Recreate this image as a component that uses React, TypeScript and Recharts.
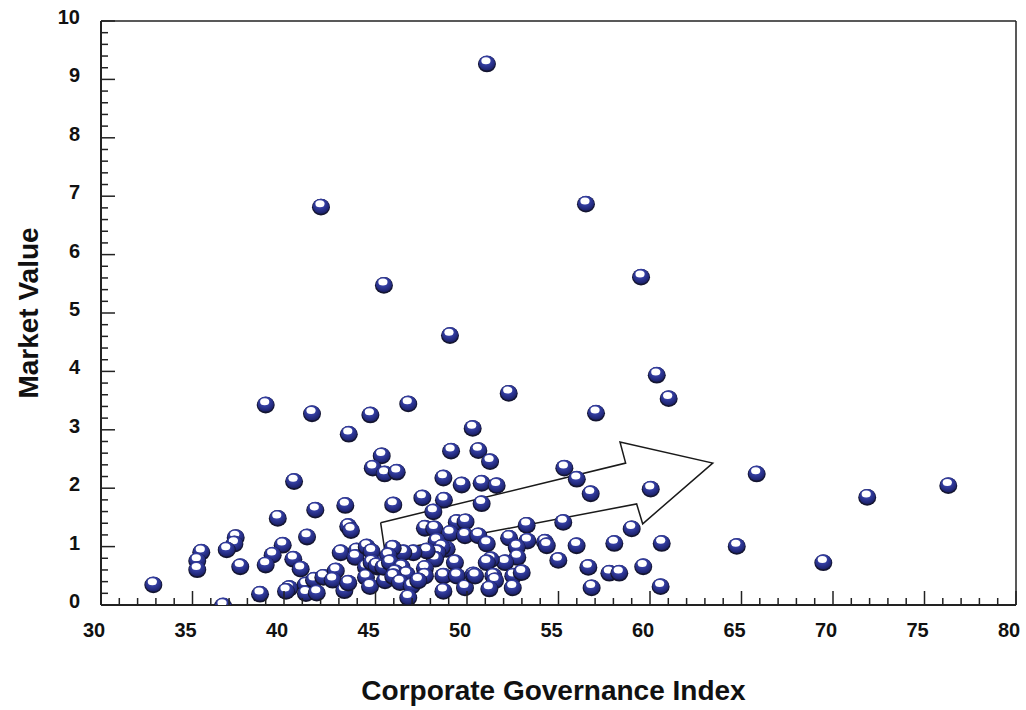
import { ScatterChart, Scatter, XAxis, YAxis, ReferenceLine } from "recharts";

// Corporate Governance Index (x) vs Market Value (y)
const firmX = [
  51.09, 42.02, 56.5, 45.46, 59.51, 49.07, 60.37, 61.02, 46.79, 52.28, 57.05, 50.31, 39.0, 41.53, 44.72,
  43.54, 45.34, 44.85, 45.5, 46.16, 40.55, 49.13, 50.62, 51.26, 48.71, 49.71, 50.8, 51.62, 55.32, 56.0,
  56.76, 60.04, 65.83, 71.87, 76.3, 41.71, 43.35, 45.97, 47.56, 48.74, 48.16, 50.8, 39.66, 43.51, 43.66,
  41.26, 37.36, 37.29, 36.87, 35.48, 35.26, 35.26, 32.86, 36.67, 37.61, 38.69, 39.93, 39.38, 39.0, 40.51,
  40.91, 40.29, 40.11, 41.19, 41.2, 41.64, 41.79, 42.15, 42.83, 42.66, 43.3, 43.51, 43.1, 43.97, 43.9,
  44.52, 44.79, 44.48, 44.48, 44.7, 44.79, 45.15, 45.52, 45.52, 47.7, 48.21, 49.44, 49.92, 49.07, 49.89,
  50.62, 48.34, 48.89, 48.62, 48.38, 49.34, 48.25, 47.8, 47.07, 46.52, 45.94, 45.7, 45.06, 45.43, 45.79,
  46.43, 46.07, 47.7, 47.7, 46.7, 45.97, 46.34, 46.98, 47.34, 48.71, 49.44, 46.79, 48.71, 49.89, 50.34,
  53.26, 55.26, 51.08, 52.3, 53.3, 54.26, 54.36, 52.72, 52.75, 54.99, 52.08, 51.3, 51.08, 50.44, 51.44,
  52.53, 52.99, 51.53, 51.22, 52.5, 55.99, 59.0, 58.05, 60.64, 56.63, 57.78, 58.32, 59.63, 56.81, 60.58,
  64.74, 69.47,
];
const firmY = [
  9.28, 6.83, 6.88, 5.49, 5.63, 4.63, 3.95, 3.55, 3.46, 3.64, 3.3, 3.04, 3.44, 3.29, 3.27,
  2.94, 2.57, 2.36, 2.26, 2.29, 2.13, 2.65, 2.66, 2.47, 2.19, 2.07, 2.1, 2.06, 2.36, 2.17,
  1.92, 2.0, 2.26, 1.86, 2.06, 1.64, 1.72, 1.73, 1.85, 1.81, 1.61, 1.75, 1.5, 1.36, 1.29,
  1.18, 1.17, 1.06, 0.96, 0.92, 0.77, 0.62, 0.36, 0.0, 0.67, 0.2, 1.04, 0.87, 0.7, 0.8,
  0.63, 0.3, 0.25, 0.36, 0.21, 0.44, 0.22, 0.49, 0.6, 0.44, 0.26, 0.39, 0.91, 0.94, 0.83,
  1.01, 0.93, 0.66, 0.49, 0.33, 0.74, 0.66, 0.77, 0.43, 1.33, 1.32, 1.43, 1.44, 1.24, 1.2,
  1.2, 1.11, 0.97, 1.0, 0.91, 0.74, 0.8, 0.94, 0.91, 0.91, 0.99, 0.86, 0.69, 0.66, 0.74,
  0.66, 0.57, 0.64, 0.51, 0.54, 0.5, 0.4, 0.34, 0.43, 0.51, 0.51, 0.14, 0.25, 0.31, 0.53,
  1.38, 1.43, 1.06, 1.16, 1.11, 1.09, 1.03, 1.0, 0.83, 0.78, 0.74, 0.79, 0.74, 0.51, 0.51,
  0.51, 0.57, 0.43, 0.29, 0.31, 1.03, 1.32, 1.07, 1.07, 0.66, 0.56, 0.56, 0.67, 0.31, 0.33,
  1.02, 0.74,
];

// outline arrow, vertices in data units (closed)
const arrowX = [45.28, 58.67, 58.36, 63.43, 59.6, 59.27, 45.52, 45.28];
const arrowY = [1.41, 2.43, 2.79, 2.43, 1.39, 1.73, 0.91, 1.41];

const xLabels = [30, 35, 40, 45, 50, 55, 60, 65, 70, 75, 80];
const yLabels = [0, 1, 2, 3, 4, 5, 6, 7, 8, 9, 10];
const xTicks = Array.from({ length: 51 }, (_, i) => 30 + i);
const yTicks = Array.from({ length: 51 }, (_, i) => i / 5);

const firms = firmX.map((x, i) => ({ x, y: firmY[i] }));
const arrow = arrowX.map((x, i) => ({ x, y: arrowY[i] }));

const FONT = "'Liberation Sans', Arial, sans-serif";
const INK = "#222";

const Sphere = (props: any) => {
  const { cx, cy } = props;
  if (cx == null || cy == null) return <g />;
  return (
    <g>
      <defs>
        <radialGradient id="sphereFill" cx="45%" cy="35%" r="65%">
          <stop offset="0%" stopColor="#4a55c4" />
          <stop offset="60%" stopColor="#2c3592" />
          <stop offset="100%" stopColor="#1b2068" />
        </radialGradient>
      </defs>
      <ellipse cx={cx} cy={cy + 1} rx={9} ry={8.3} fill="#141530" />
      <ellipse cx={cx} cy={cy} rx={8.2} ry={7.5} fill="url(#sphereFill)" />
      <ellipse cx={cx - 1} cy={cy - 2.3} rx={4.6} ry={3.5} fill="#ffffff" />
    </g>
  );
};

const XTick = (props: any) => {
  const { x, y, payload } = props;
  const v = payload.value;
  const major = xLabels.includes(v);
  return (
    <g>
      <line x1={x} y1={y} x2={x} y2={y - (major ? 14 : 7)} stroke={INK} strokeWidth={1.5} />
      {major && (
        <text x={x - 7} y={y + 32} textAnchor="middle" fontFamily={FONT} fontWeight="bold" fontSize={20} fill="#111">
          {v}
        </text>
      )}
    </g>
  );
};

const YTick = (props: any) => {
  const { x, y, payload } = props;
  const v = payload.value;
  const major = yLabels.some((m) => Math.abs(m - v) < 1e-6);
  return (
    <g>
      <line x1={x} y1={y} x2={x + (major ? 14 : 7)} y2={y} stroke={INK} strokeWidth={1.5} />
      {major && (
        <text x={x - 21} y={y + 3} textAnchor="end" fontFamily={FONT} fontWeight="bold" fontSize={20} fill="#111">
          {Math.round(v)}
        </text>
      )}
    </g>
  );
};

const YTitle = (props: any) => {
  const { viewBox } = props;
  const cx = 28;
  const cy = viewBox.y + viewBox.height / 2;
  return (
    <text x={cx} y={cy} transform={`rotate(-90 ${cx} ${cy})`} textAnchor="middle" dominantBaseline="central"
      fontFamily={FONT} fontWeight="bold" fontSize={28} fill="#111">
      Market Value
    </text>
  );
};

const XTitle = (props: any) => {
  const { viewBox } = props;
  return (
    <text x={viewBox.x + viewBox.width / 2 - 5} y={690} textAnchor="middle" dominantBaseline="central"
      fontFamily={FONT} fontWeight="bold" fontSize={28} fill="#111">
      Corporate Governance Index
    </text>
  );
};

export default function App() {
  return (
    <div style={{ position: "absolute", left: 0, top: 0, background: "#fff" }}>
      <ScatterChart width={1026} height={710} margin={{ top: 21, right: 10, left: 21, bottom: 0 }}>
        <XAxis
          type="number"
          dataKey="x"
          domain={[30, 80]}
          ticks={xTicks}
          interval={0}
          height={105}
          tickSize={0}
          tickMargin={0}
          tickLine={false}
          axisLine={{ stroke: INK, strokeWidth: 2 }}
          tick={<XTick />}
          label={<XTitle />}
          allowDataOverflow
        />
        <YAxis
          type="number"
          dataKey="y"
          domain={[0, 10]}
          ticks={yTicks}
          interval={0}
          width={80}
          tickSize={0}
          tickMargin={0}
          tickLine={false}
          axisLine={{ stroke: INK, strokeWidth: 2 }}
          tick={<YTick />}
          label={<YTitle />}
          allowDataOverflow
        />
        <ReferenceLine y={10} stroke={INK} strokeWidth={1.5} />
        <ReferenceLine x={80} stroke={INK} strokeWidth={1.5} />
        <Scatter
          data={arrow}
          line={{ stroke: "#1a1a1a", strokeWidth: 1.5 }}
          lineType="joint"
          shape={() => <g />}
          isAnimationActive={false}
          legendType="none"
        />
        <Scatter data={firms} shape={<Sphere />} isAnimationActive={false} />
      </ScatterChart>
    </div>
  );
}
